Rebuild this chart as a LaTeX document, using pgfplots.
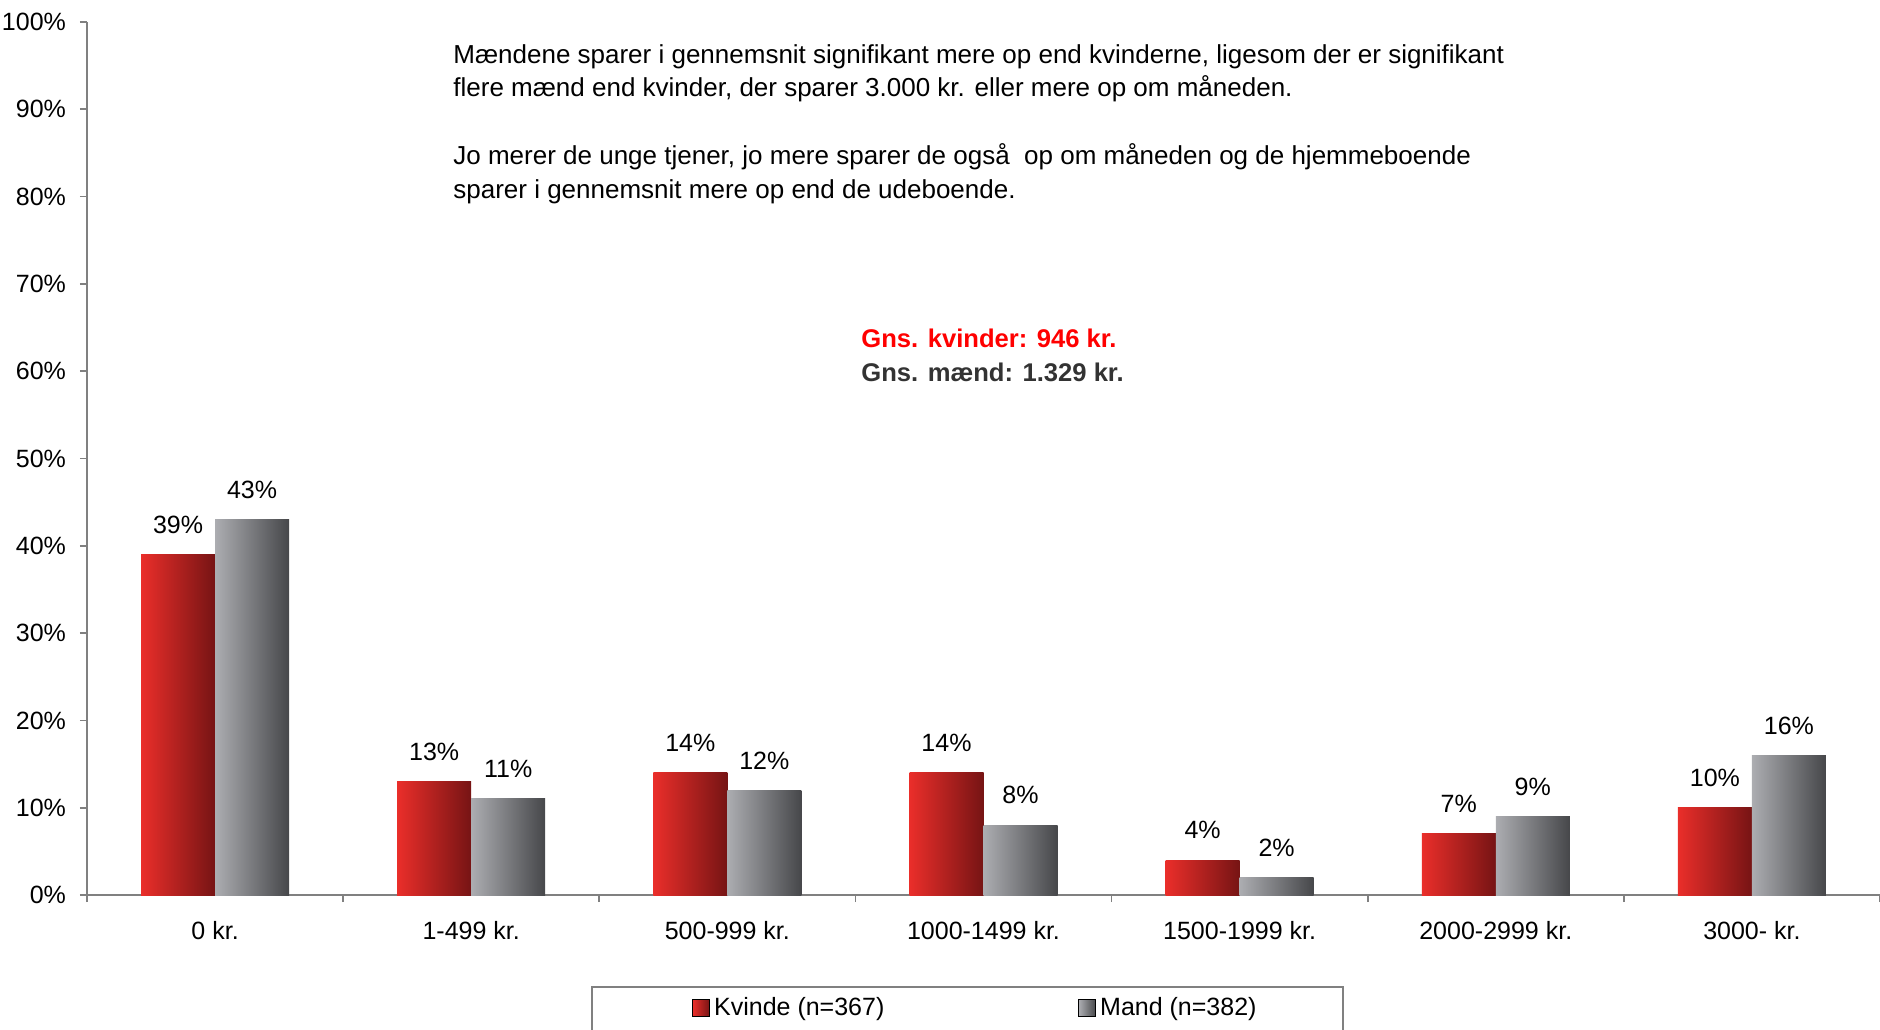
\documentclass[border=0pt]{standalone}
\usepackage{fontspec}
\setmainfont{Liberation Sans}
\usepackage{pgfplots}
\usepackage{pgfplotstable}
\pgfplotsset{compat=1.18}
\definecolor{redL}{RGB}{234,46,42}
\definecolor{redR}{RGB}{118,20,20}
\definecolor{grayL}{RGB}{172,173,177}
\definecolor{grayR}{RGB}{70,71,74}
\definecolor{axgray}{RGB}{128,128,128}
\definecolor{darktext}{RGB}{51,51,51}
\newcommand{\fs}{\fontsize{12.5}{15}\selectfont}
\newcommand{\fn}{\fontsize{13}{15.6}\selectfont}

% share saving each amount per month, percent
\pgfplotstableread{
x kvinde mand
0 39 43
1 13 11
2 14 12
3 14 8
4 4  2
5 7  9
6 10 16
}\savings

\begin{document}
\begin{tikzpicture}[font=\fs]
\useasboundingbox (0,0) rectangle (940pt,514.5pt);
\begin{axis}[
  at={(43.5pt,67pt)}, anchor=south west,
  scale only axis, width=896.5pt, height=436.5pt,
  xmin=-0.5, xmax=6.5, ymin=0, ymax=100,
  axis lines*=left,
  axis line style={axgray, line width=0.8pt},
  xtick={0,...,6},
  xticklabels={0 kr., 1-499 kr., 500-999 kr., 1000-1499 kr., 1500-1999 kr., 2000-2999 kr., 3000- kr.},
  major x tick style={draw=none},
  minor xtick={-0.5,0.5,...,6.5},
  ytick={0,10,...,100},
  yticklabels={0\%,10\%,20\%,30\%,40\%,50\%,60\%,70\%,80\%,90\%,100\%},
  tick align=outside,
  major tick length=3.5pt, minor tick length=3.5pt,
  tick style={axgray, line width=0.8pt},
  tick label style={font=\fs, text=black},
  xticklabel style={yshift=-6pt},
  yticklabel style={xshift=-3.5pt},
  /pgf/number format/assume math mode=true,
  nodes near coords={\pgfmathprintnumber{\pgfplotspointmeta}\%},
  every node near coord/.append style={font=\fs, text=black, yshift=7pt},
  legend columns=2,
  legend style={draw=none, fill=none, inner sep=0pt,
    at={(0.3374,-0.1298)}, anchor=west,
    nodes={inner sep=2pt},
    /tikz/every even column/.append style={column sep=95pt}},
]
% one plot per bar so that each bar gets its own left-to-right shading
\pgfplotsinvokeforeach{0,...,6}{
  \addplot[ybar, bar width=37pt, bar shift=-18.5pt, draw=none,
    left color=redL, right color=redR, forget plot,
    every node near coord/.append style={xshift=-18.5pt},
    restrict expr to domain={\coordindex}{#1:#1}]
    table[x=x, y=kvinde] {\savings};
  \addplot[ybar, bar width=37pt, bar shift=18.5pt, draw=none,
    left color=grayL, right color=grayR, forget plot,
    every node near coord/.append style={xshift=18.5pt},
    restrict expr to domain={\coordindex}{#1:#1}]
    table[x=x, y=mand] {\savings};
}
\addlegendimage{legend image code/.code={\fill[left color=redL, right color=redR] (0pt,-4.25pt) rectangle (8.5pt,4.25pt);}}
\addlegendentry{Kvinde (n=367)}
\addlegendimage{legend image code/.code={\fill[left color=grayL, right color=grayR] (0pt,-4.25pt) rectangle (8.5pt,4.25pt);}}
\addlegendentry{Mand (n=382)}
\end{axis}
\draw[axgray, line width=0.6pt] (296pt,-5pt) |- (671.5pt,21pt) -- (671.5pt,-5pt);
\begin{scope}[every node/.style={anchor=base west, inner sep=0pt, font=\fn}]
\node at (226.5pt,482.5pt)
  {Mændene sparer i gennemsnit signifikant mere op end kvinderne, ligesom der er signifikant};
\node at (226.5pt,466pt)
  {flere mænd end kvinder, der sparer 3.000 kr. eller mere op om måneden.};
\node at (226.5pt,432pt)
  {Jo merer de unge tjener, jo mere sparer de også\ \ op om måneden og de hjemmeboende};
\node at (226.5pt,415pt)
  {sparer i gennemsnit mere op end de udeboende.};
\end{scope}
\node[anchor=base west, inner sep=0pt, text=red, font=\fontsize{12.8}{15}\selectfont\bfseries] at (430.5pt,340.5pt) {Gns. kvinder: 946 kr.};
\node[anchor=base west, inner sep=0pt, text=darktext, font=\fontsize{12.8}{15}\selectfont\bfseries] at (430.5pt,323.5pt) {Gns. mænd: 1.329 kr.};
\end{tikzpicture}
\end{document}
